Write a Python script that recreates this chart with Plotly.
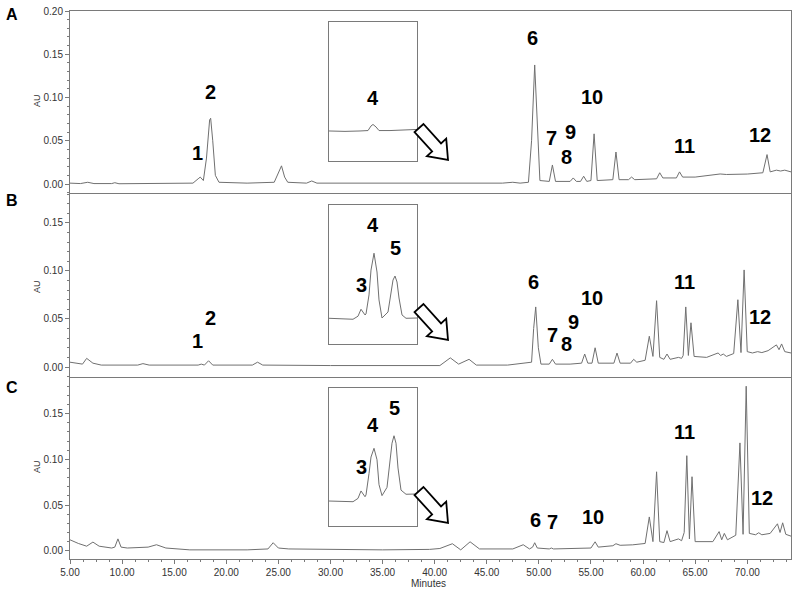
import math
import plotly.graph_objects as go

# ---------------- data (minutes, AU) ----------------
time_a = [5.0, 6.0, 6.7, 7.3, 9.0, 9.3, 9.7, 14.0, 16.8, 17.3, 17.5, 17.8, 18.1, 18.4, 18.5, 18.7, 18.95, 19.3,
          22.0, 24.6, 25.0, 25.3, 25.6, 25.9, 27.7, 28.2, 28.7, 35.0, 40.0, 46.5, 47.5, 48.2, 49.0, 49.3, 49.6,
          49.85, 50.1, 51.0, 51.3, 51.6, 53.0, 53.3, 53.6, 54.0, 54.3, 54.6, 55.0, 55.3, 55.6, 57.1, 57.4, 57.7,
          58.6, 58.9, 59.2, 61.3, 61.6, 61.9, 63.2, 63.5, 63.8, 65.0, 67.4, 68.0, 70.0, 71.5, 71.9, 72.2, 72.8,
          73.2, 73.6, 74.2]
au_a = [0.001, 0.0005, 0.002, 0.0005, 0.0005, 0.0015, 0.0003, 0.0003, 0.001, 0.006, 0.008, 0.004, 0.03, 0.074,
        0.076, 0.05, 0.01, 0.002, 0.001, 0.002, 0.012, 0.021, 0.008, 0.002, 0.001, 0.0035, 0.001, 0.001, 0.001,
        0.001, 0.002, 0.001, 0.002, 0.05, 0.1376, 0.06, 0.004, 0.003, 0.022, 0.003, 0.003, 0.007, 0.003, 0.003,
        0.009, 0.003, 0.004, 0.058, 0.004, 0.005, 0.037, 0.005, 0.005, 0.008, 0.005, 0.006, 0.013, 0.007, 0.007,
        0.014, 0.008, 0.008, 0.0116, 0.011, 0.0115, 0.013, 0.034, 0.014, 0.016, 0.015, 0.016, 0.014]

time_b = [5.0, 5.7, 6.2, 6.6, 7.2, 8.0, 11.5, 12.0, 12.6, 17.3, 17.6, 17.9, 18.3, 18.7, 22.5, 23.0, 23.5, 30.0,
          40.5, 41.5, 42.3, 43.3, 44.0, 47.0, 49.3, 49.5, 49.7, 49.95, 50.2, 51.0, 51.3, 51.6, 53.0, 54.1, 54.4,
          54.7, 55.1, 55.4, 55.7, 57.2, 57.5, 57.8, 58.8, 59.1, 59.4, 60.2, 60.6, 60.95, 61.3, 61.6, 62.0, 62.3,
          62.6, 63.4, 63.7, 63.85, 64.1, 64.35, 64.6, 64.9, 66.1, 67.2, 67.45, 67.7, 68.0, 68.7, 69.1, 69.4, 69.7,
          70.0, 70.5, 71.0, 71.4, 72.0, 72.8, 73.05, 73.3, 73.6, 74.2]
au_b = [0.005, 0.004, 0.003, 0.009, 0.004, 0.002, 0.002, 0.0035, 0.002, 0.002, 0.003, 0.002, 0.0065, 0.002,
        0.002, 0.005, 0.002, 0.0015, 0.0015, 0.0095, 0.003, 0.008, 0.002, 0.002, 0.005, 0.04, 0.0625, 0.02,
        0.003, 0.003, 0.008, 0.003, 0.003, 0.004, 0.0135, 0.004, 0.004, 0.020, 0.004, 0.004, 0.0145, 0.004,
        0.004, 0.008, 0.005, 0.007, 0.032, 0.011, 0.069, 0.010, 0.008, 0.0135, 0.008, 0.010, 0.009, 0.012,
        0.0625, 0.012, 0.046, 0.011, 0.010, 0.0146, 0.012, 0.0135, 0.011, 0.014, 0.070, 0.015, 0.101, 0.016,
        0.0146, 0.016, 0.015, 0.017, 0.023, 0.018, 0.024, 0.016, 0.0146]

time_c = [5.0, 5.8, 6.6, 7.2, 7.8, 9.0, 9.3, 9.6, 9.9, 10.5, 12.5, 13.3, 14.2, 16.5, 22.0, 24.0, 24.5, 25.0,
          26.0, 35.0, 39.5, 40.5, 41.7, 42.5, 43.4, 44.3, 47.5, 48.5, 49.1, 49.4, 49.6, 49.85, 51.0, 51.2, 51.4,
          55.0, 55.4, 55.7, 57.1, 57.4, 57.8, 59.0, 60.2, 60.6, 60.95, 61.3, 61.6, 62.0, 62.3, 62.6, 63.4, 63.7,
          63.95, 64.2, 64.45, 64.7, 65.0, 66.7, 67.3, 67.55, 67.8, 68.1, 68.9, 69.3, 69.6, 69.9, 70.2, 70.8, 71.1,
          71.4, 72.2, 72.9, 73.15, 73.4, 73.7, 74.2]
au_c = [0.012, 0.008, 0.005, 0.0095, 0.005, 0.003, 0.004, 0.013, 0.004, 0.003, 0.004, 0.0066, 0.003, 0.001,
        0.001, 0.002, 0.0088, 0.003, 0.002, 0.001, 0.0015, 0.0025, 0.0077, 0.001, 0.0098, 0.002, 0.002, 0.0066,
        0.002, 0.004, 0.0088, 0.003, 0.002, 0.003, 0.002, 0.003, 0.0098, 0.004, 0.0055, 0.0077, 0.006, 0.0065,
        0.008, 0.037, 0.010, 0.0864, 0.010, 0.009, 0.022, 0.010, 0.013, 0.011, 0.02, 0.104, 0.013, 0.081, 0.010,
        0.010, 0.021, 0.012, 0.019, 0.012, 0.017, 0.118, 0.018, 0.18, 0.019, 0.0175, 0.0197, 0.0175, 0.019,
        0.0295, 0.02, 0.0306, 0.018, 0.016]

# inset (zoomed 30-38.8 min region, relative scale 0-1)
inset_time_a = [30.0, 31.6, 33.1, 33.9, 34.2, 34.4, 34.7, 35.0, 36.1, 37.6, 38.8]
inset_val_a = [0.216, 0.213, 0.216, 0.219, 0.252, 0.263, 0.245, 0.219, 0.219, 0.223, 0.227]

inset_time_b = [30.0, 32.4, 32.9, 33.2, 33.6, 33.7, 34.0, 34.2, 34.5, 34.8, 35.0, 35.3, 35.9, 36.2, 36.4, 36.6,
                36.8, 37.0, 37.3, 37.7, 38.8]
inset_val_b = [0.185, 0.178, 0.200, 0.250, 0.209, 0.216, 0.353, 0.532, 0.653, 0.518, 0.317, 0.187, 0.230, 0.374,
               0.460, 0.489, 0.446, 0.331, 0.209, 0.185, 0.187]

inset_time_c = [30.0, 32.4, 32.9, 33.2, 33.6, 33.7, 34.0, 34.2, 34.5, 34.8, 35.0, 35.3, 35.8, 36.1, 36.3, 36.5,
                36.7, 36.9, 37.2, 37.7, 38.8]
inset_val_c = [0.181, 0.176, 0.200, 0.254, 0.212, 0.225, 0.380, 0.500, 0.563, 0.480, 0.300, 0.220, 0.280, 0.480,
               0.600, 0.654, 0.600, 0.420, 0.260, 0.230, 0.232]

# peak labels (text, minutes, AU)
labels_a = [("1", 17.28, 0.036), ("2", 18.44, 0.106), ("6", 49.43, 0.169), ("7", 51.26, 0.053),
            ("8", 52.70, 0.031), ("9", 53.08, 0.060), ("10", 55.10, 0.101), ("11", 63.93, 0.044),
            ("12", 71.22, 0.057)]
labels_b = [("1", 17.19, 0.027), ("2", 18.44, 0.051), ("6", 49.53, 0.0885), ("7", 51.35, 0.033),
            ("8", 52.70, 0.024), ("9", 53.37, 0.047), ("10", 55.10, 0.072), ("11", 63.93, 0.0885),
            ("12", 71.22, 0.052)]
labels_c = [("6", 49.63, 0.034), ("7", 51.35, 0.031), ("10", 55.19, 0.037), ("11", 63.93, 0.130),
            ("12", 71.41, 0.058)]
inset_labels_a = [("4", 34.4, 0.453)]
inset_labels_b = [("3", 33.2, 0.424), ("4", 34.4, 0.856), ("5", 36.6, 0.691)]
inset_labels_c = [("3", 33.2, 0.428), ("4", 34.4, 0.732), ("5", 36.5, 0.855)]

x_ticks = [5, 10, 15, 20, 25, 30, 35, 40, 45, 50, 55, 60, 65, 70]

# ---------------- layout geometry ----------------
W, H = 800, 593
L, R, T, B = 70, 791, 11, 559


def pp(px, py):
    return (px - L) / (R - L), (B - py) / (B - T)


def ydom(top, bot):
    return [(B - bot) / (B - T), (B - top) / (B - T)]


LINE = "#7a7a7a"
TRACE = "#707070"
FONT = "Liberation Sans, Arial, sans-serif"

fig = go.Figure()
main = [(time_a, au_a, "x", "y"), (time_b, au_b, "x2", "y2"), (time_c, au_c, "x3", "y3")]
for t, v, xa, ya in main:
    fig.add_trace(go.Scatter(x=t, y=v, mode="lines", xaxis=xa, yaxis=ya,
                             line=dict(color=TRACE, width=1), hoverinfo="skip", showlegend=False))
insets = [(inset_time_a, inset_val_a, "x4", "y4"), (inset_time_b, inset_val_b, "x5", "y5"),
          (inset_time_c, inset_val_c, "x6", "y6")]
for t, v, xa, ya in insets:
    fig.add_trace(go.Scatter(x=t, y=v, mode="lines", xaxis=xa, yaxis=ya,
                             line=dict(color=TRACE, width=1), hoverinfo="skip", showlegend=False))

xrange_ = [5, 74.2]
common_x = dict(range=xrange_, showline=True, mirror=True, linecolor=LINE, linewidth=1,
                showgrid=False, zeroline=False, automargin=False)
common_y = dict(showline=True, mirror=True, linecolor=LINE, linewidth=1, showgrid=False, zeroline=False,
                automargin=False,
                ticks="outside", ticklen=4, tickcolor=LINE, tickformat=".2f", dtick=0.05, tick0=0,
                tickfont=dict(size=10, color="#333333", family=FONT),
                minor=dict(dtick=0.01, ticks="outside", ticklen=2, tickcolor=LINE))

dom_a = ydom(11, 193)
dom_b = ydom(194, 377)
dom_c = ydom(378, 559)

layout = dict(
    width=W, height=H, margin=dict(l=L, r=W - R, t=T, b=H - B, autoexpand=False),
    paper_bgcolor="white", plot_bgcolor="white", showlegend=False,
    xaxis=dict(common_x, anchor="y", showticklabels=False, ticks=""),
    xaxis2=dict(common_x, anchor="y2", showticklabels=False, ticks=""),
    xaxis3=dict(common_x, anchor="y3", ticks="outside", ticklen=4, tickcolor=LINE, tickvals=x_ticks,
                tickformat=".2f", tickfont=dict(size=10, color="#333333", family=FONT),
                minor=dict(dtick=1.25, tick0=5, ticks="outside", ticklen=2, tickcolor=LINE)),
    yaxis=dict(common_y, anchor="x", domain=dom_a, range=[-0.0104, 0.20]),
    yaxis2=dict(common_y, anchor="x2", domain=dom_b, range=[-0.0104, 0.18]),
    yaxis3=dict(common_y, anchor="x3", domain=dom_c, range=[-0.009, 0.189]),
)
ix0, _ = pp(329, 0)
ix1, _ = pp(417, 0)
inset_boxes = [(22, 161), (205, 344), (388, 526)]
for i, (top, bot) in enumerate(inset_boxes):
    n = 4 + i
    layout[f"xaxis{n}"] = dict(domain=[ix0, ix1], range=[30, 38.8], anchor=f"y{n}", showline=True, mirror=True,
                                linecolor=LINE, linewidth=1, showticklabels=False, ticks="", showgrid=False,
                                zeroline=False, automargin=False)
    layout[f"yaxis{n}"] = dict(domain=ydom(top, bot), range=[0, 1], anchor=f"x{n}", showline=True, mirror=True,
                                linecolor=LINE, linewidth=1, showticklabels=False, ticks="", showgrid=False,
                                zeroline=False, automargin=False)
fig.update_layout(**layout)

ann = []
lab_font = dict(family=FONT, size=20, color="black")
for labs, xr, yr in [(labels_a, "x", "y"), (labels_b, "x2", "y2"), (labels_c, "x3", "y3"),
                     (inset_labels_a, "x4", "y4"), (inset_labels_b, "x5", "y5"), (inset_labels_c, "x6", "y6")]:
    for txt, xv, yv in labs:
        ann.append(dict(text=f"<b>{txt}</b>", x=xv, y=yv, xref=xr, yref=yr, showarrow=False, font=lab_font,
                        xanchor="center", yanchor="middle"))

# panel letters
for letter, py in [("A", 15), ("B", 201), ("C", 387)]:
    x, y = pp(12, py)
    ann.append(dict(text=f"<b>{letter}</b>", x=x, y=y, xref="paper", yref="paper", showarrow=False,
                    font=dict(family=FONT, size=16, color="black"), xanchor="center", yanchor="middle"))
# AU titles
for py in [101, 287, 467]:
    x, y = pp(37, py)
    ann.append(dict(text="AU", x=x, y=y, xref="paper", yref="paper", showarrow=False, textangle=-90,
                    font=dict(family=FONT, size=9, color="#333333"), xanchor="center", yanchor="middle"))
x, y = pp(428, 583)
ann.append(dict(text="Minutes", x=x, y=y, xref="paper", yref="paper", showarrow=False,
                font=dict(family=FONT, size=10, color="#333333"), xanchor="center", yanchor="middle"))
fig.update_layout(annotations=ann)

# hollow arrows
shapes = []
for tip_y in [160, 340, 523]:
    sx, sy = 419.0, tip_y - 32.0
    tx, ty = 448.0, float(tip_y)
    dx, dy = tx - sx, ty - sy
    ln = math.hypot(dx, dy)
    ux, uy = dx / ln, dy / ln
    nx, ny = -uy, ux
    w, hw, hl = 6.0, 13.0, 17.0
    bx, by = tx - hl * ux, ty - hl * uy
    pts = [(sx + w * nx, sy + w * ny), (bx + w * nx, by + w * ny), (bx + hw * nx, by + hw * ny), (tx, ty),
           (bx - hw * nx, by - hw * ny), (bx - w * nx, by - w * ny), (sx - w * nx, sy - w * ny)]
    path = "M " + " L ".join(f"{pp(px, py)[0]:.5f},{pp(px, py)[1]:.5f}" for px, py in pts) + " Z"
    shapes.append(dict(type="path", path=path, xref="paper", yref="paper", fillcolor="white",
                       line=dict(color="black", width=1.8), layer="above"))
fig.update_layout(shapes=shapes)

fig.write_html("out.html", config={"displayModeBar": False},
               post_script="document.body.style.margin='0';document.body.style.padding='0';")
